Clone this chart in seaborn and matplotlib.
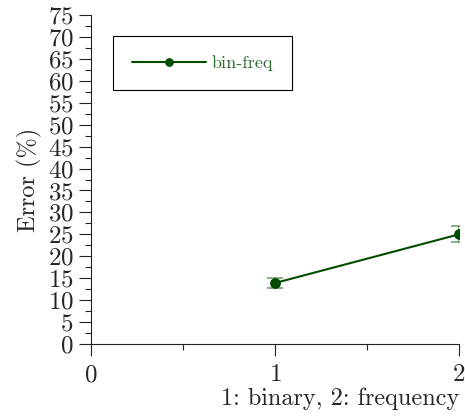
import numpy as np
import pandas as pd
import seaborn as sns
import matplotlib.pyplot as plt
from matplotlib.ticker import MultipleLocator

# encoding: 1 = binary, 2 = frequency
encoding = [1, 2]
error_pct = [13.9, 25.0]
error_sd = [1.2, 1.8]
series = ['bin-freq', 'bin-freq']

df = pd.DataFrame({'encoding': encoding, 'error': error_pct,
                   'sd': error_sd, 'model': series})

sns.set_style('ticks')
plt.rcParams['font.family'] = 'serif'
plt.rcParams['font.serif'] = ['cmr10', 'DejaVu Serif']
plt.rcParams['axes.formatter.use_mathtext'] = True
plt.rcParams['mathtext.fontset'] = 'cm'

green = '#004d00'

fig = plt.figure(figsize=(4.65, 4.16), dpi=100)
ax = fig.add_axes([91/465, 1 - 344/416, 368/465, 329/416])

ax.errorbar(df['encoding'], df['error'], yerr=df['sd'], fmt='none',
            ecolor=green, alpha=0.55, elinewidth=1.2, capsize=6, capthick=1.2)
sns.lineplot(data=df, x='encoding', y='error', hue='model', palette=[green],
             marker='o', markersize=7, markeredgecolor=green, linewidth=1.5,
             errorbar=None, ax=ax)

ax.set_xlim(0, 2)
ax.set_ylim(0, 75)
ax.xaxis.set_major_locator(MultipleLocator(1))
ax.xaxis.set_minor_locator(MultipleLocator(0.5))
ax.yaxis.set_major_locator(MultipleLocator(5))
ax.yaxis.set_minor_locator(MultipleLocator(2.5))
ax.tick_params(which='major', direction='out', length=8.6, width=0.8,
               labelsize=18, color='#222222')
ax.tick_params(which='minor', direction='out', length=4.3, width=0.8,
               color='#222222')
ax.tick_params(axis='x', which='major', pad=6)
ax.tick_params(axis='y', which='major', pad=4)
for s in ['top', 'right']:
    ax.spines[s].set_visible(False)
for s in ['left', 'bottom']:
    ax.spines[s].set_linewidth(0.8)
    ax.spines[s].set_color('#222222')

ax.set_xlabel('1: binary, 2: frequency', fontsize=17.5, loc='right', labelpad=1)
ax.set_ylabel('Error (%)', fontsize=17.5, labelpad=4)

leg = ax.legend(loc='upper left', bbox_to_anchor=(0.06, 0.935), fontsize=13,
                fancybox=False, edgecolor='black', framealpha=1,
                handlelength=4.1, handletextpad=0.3, borderpad=1.05,
                borderaxespad=0, labelcolor='#2e6b2e')
leg.get_frame().set_linewidth(0.8)
for h in leg.legend_handles:
    h.set_markersize(5.5)

fig.savefig('out.png', dpi=100)
